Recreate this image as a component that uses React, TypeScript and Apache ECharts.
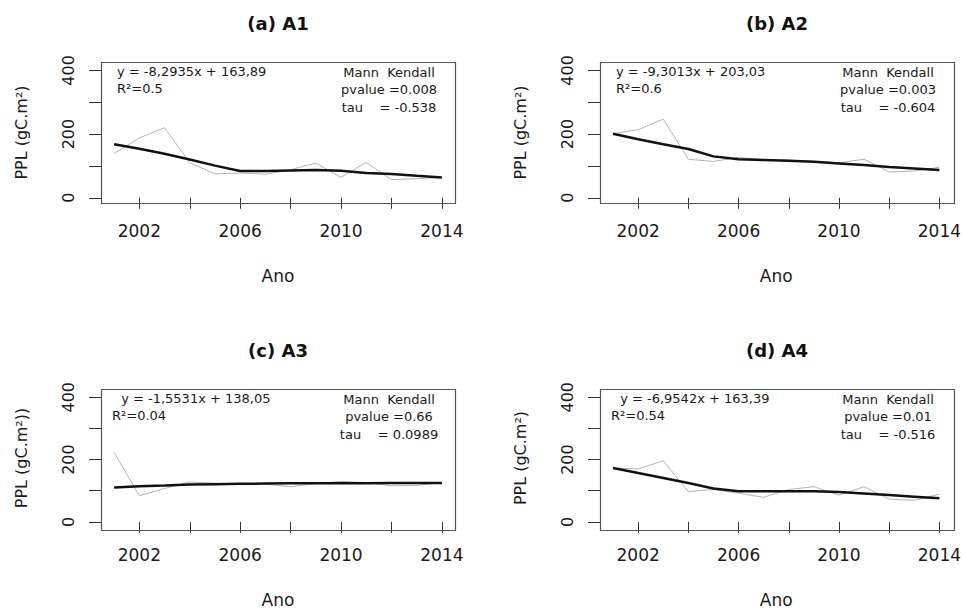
import React, { useEffect, useRef } from "react";
import * as echarts from "echarts";

const years = [2001, 2002, 2003, 2004, 2005, 2006, 2007, 2008, 2009, 2010, 2011, 2012, 2013, 2014];
const xTickValues = [2002, 2004, 2006, 2008, 2010, 2012, 2014];
const xLabelValues = [2002, 2006, 2010, 2014];
const yTickValues = [0, 100, 200, 300, 400];
const yLabelValues = [0, 200, 400];

const a1Obs = [139, 188, 220, 110, 75, 78, 74, 88, 109, 64, 111, 57, 60, 64];
const a1Trend = [168, 154, 138, 120, 101, 84, 84, 86, 87, 85, 78, 75, 69, 64];
const a2Obs = [201, 214, 247, 121, 114, 127, 119, 118, 114, 110, 121, 81, 84, 96];
const a2Trend = [201, 184, 168, 153, 130, 121, 119, 116, 113, 108, 103, 97, 92, 87];
const a3Obs = [223, 84, 107, 128, 124, 122, 121, 113, 123, 130, 126, 116, 117, 126];
const a3Trend = [110, 114, 117, 120, 121, 122, 123, 124, 124, 124, 124, 125, 125, 125];
const a4Obs = [173, 170, 196, 97, 104, 92, 79, 104, 113, 86, 113, 73, 69, 89];
const a4Trend = [173, 157, 141, 125, 107, 98, 98, 98, 98, 96, 91, 86, 81, 76];

const titles = ["(a) A1", "(b) A2", "(c) A3", "(d) A4"];
const yNames = ["PPL (gC.m²)", "PPL (gC.m²)", "PPL (gC.m²))", "PPL (gC.m²)"];
const xName = "Ano";
const eqTexts = [
  "y = -8,2935x + 163,89",
  "y = -9,3013x + 203,03",
  " y = -1,5531x + 138,05",
  " y = -6,9542x + 163,39",
];
const r2Texts = ["R²=0.5", "R²=0.6", "R²=0.04", "R²=0.54"];
const mkTitle = "Mann  Kendall";
const pTexts = ["pvalue =0.008", "pvalue =0.003", "pvalue =0.66", "pvalue =0.01"];
const tauTexts = ["tau    = -0.538", "tau    = -0.604", "tau    = 0.0989", "tau    = -0.516"];

const obsSeries = [a1Obs, a2Obs, a3Obs, a4Obs];
const trendSeries = [a1Trend, a2Trend, a3Trend, a4Trend];

const FONT = "DejaVu Sans";
const TEXT = "#1a1a1a";

const gridPos = [
  { left: 101, top: 62 },
  { left: 600, top: 62 },
  { left: 101, top: 389 },
  { left: 600, top: 389 },
];
const GW = 354;
const GH = 141;

export default function App() {
  const ref = useRef<HTMLDivElement>(null);
  useEffect(() => {
    if (!ref.current) return;
    const chart = echarts.init(ref.current, null, { renderer: "svg" });
    const grids: any[] = [];
    const xAxes: any[] = [];
    const yAxes: any[] = [];
    const series: any[] = [];
    const graphics: any[] = [];
    for (let i = 0; i < 4; i++) {
      const g = gridPos[i];
      grids.push({
        left: g.left,
        top: g.top,
        width: GW,
        height: GH,
        show: false,
        containLabel: false,
      });
      xAxes.push({
        type: "value",
        gridIndex: i,
        min: 2000.48,
        max: 2014.52,
        axisLine: { show: false },
        splitLine: { show: false },
        axisTick: {
          show: true,
          length: 11,
          lineStyle: { color: "#333", width: 1 },
          customValues: xTickValues,
        },
        axisLabel: {
          show: true,
          customValues: xLabelValues,
          formatter: (v: number) => String(v),
          margin: 19,
          fontFamily: FONT,
          fontSize: 17,
          color: TEXT,
        },
        name: xName,
        nameLocation: "middle",
        nameGap: 64,
        nameTextStyle: { fontFamily: FONT, fontSize: 17, color: TEXT },
      });
      yAxes.push({
        type: "value",
        gridIndex: i,
        min: -16.4,
        max: 426.4,
        axisLine: { show: false },
        splitLine: { show: false },
        axisTick: {
          show: true,
          length: 12,
          lineStyle: { color: "#333", width: 1 },
          customValues: yTickValues,
        },
        axisLabel: {
          show: true,
          customValues: yLabelValues,
          formatter: (v: number) => String(v),
          rotate: 90,
          margin: 33,
          fontFamily: FONT,
          fontSize: 16,
          color: TEXT,
          verticalAlign: "middle",
          align: "center",
        },
        name: yNames[i],
        nameLocation: "middle",
        nameGap: 72,
        nameRotate: 90,
        nameTextStyle: { fontFamily: FONT, fontSize: 16, color: TEXT },
      });
      series.push({
        type: "line",
        xAxisIndex: i,
        yAxisIndex: i,
        data: years.map((y, k) => [y, obsSeries[i][k]]),
        showSymbol: false,
        symbol: "none",
        lineStyle: { color: "#b4b4b4", width: 1 },
        z: 2,
      });
      series.push({
        type: "line",
        xAxisIndex: i,
        yAxisIndex: i,
        data: years.map((y, k) => [y, trendSeries[i][k]]),
        showSymbol: false,
        symbol: "none",
        lineStyle: { color: "#111", width: 2.5 },
        z: 3,
      });
      graphics.push({
        type: "rect",
        shape: { x: g.left + 0.5, y: g.top + 0.5, width: GW, height: GH },
        style: { fill: "none", stroke: "#555", lineWidth: 1.2 },
        z: 10,
      });
      const cx = g.left + GW / 2;
      graphics.push({
        type: "text",
        x: cx,
        y: g.top - 39,
        style: {
          text: titles[i],
          fontFamily: FONT,
          fontSize: 18,
          fontWeight: "bold",
          fill: "#111",
          align: "center",
          verticalAlign: "middle",
        },
      });
      const textStyle = (t: string, align: string) => ({
        text: t,
        fontFamily: FONT,
        fontSize: 13,
        fill: TEXT,
        align,
        verticalAlign: "middle",
      });
      graphics.push({ type: "text", x: g.left + 16, y: g.top + 9.5, style: textStyle(eqTexts[i], "left") });
      graphics.push({ type: "text", x: g.left + (i < 2 ? 16 : 11), y: g.top + 26.5, style: textStyle(r2Texts[i], "left") });
      const rx = g.left + 288;
      graphics.push({ type: "text", x: rx, y: g.top + 10, style: textStyle(mkTitle, "center") });
      graphics.push({ type: "text", x: rx, y: g.top + 27.5, style: textStyle(pTexts[i], "center") });
      graphics.push({ type: "text", x: rx, y: g.top + 45, style: textStyle(tauTexts[i], "center") });
    }
    chart.setOption({
      animation: false,
      backgroundColor: "#fff",
      grid: grids,
      xAxis: xAxes,
      yAxis: yAxes,
      series,
      graphic: graphics,
    });
    return () => chart.dispose();
  }, []);
  return (
    <div
      ref={ref}
      style={{ position: "fixed", left: 0, top: 0, width: 964, height: 609, background: "#fff" }}
    />
  );
}
